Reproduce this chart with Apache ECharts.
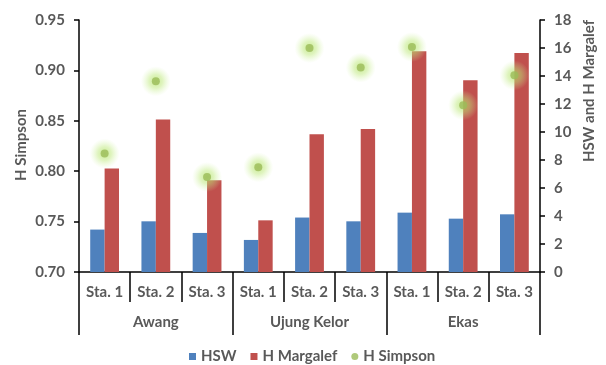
<!DOCTYPE html>
<html>
<head>
<meta charset="utf-8">
<script src="https://cdn.jsdelivr.net/npm/echarts@6/dist/echarts.min.js"></script>
<style>
  html, body { margin: 0; padding: 0; background: #fff; }
  #chart { width: 606px; height: 365px; }
</style>
</head>
<body>
<div id="chart"></div>
<script>
// Stations (inner axis level) and their sites (outer axis level)
const stations = ['Sta. 1', 'Sta. 2', 'Sta. 3', 'Sta. 1', 'Sta. 2', 'Sta. 3', 'Sta. 1', 'Sta. 2', 'Sta. 3'];
const sites = ['Awang', 'Ujung Kelor', 'Ekas'];

// Diversity indices per station
const hsw = [3.03, 3.62, 2.79, 2.29, 3.89, 3.62, 4.24, 3.81, 4.12];
const hMargalef = [7.40, 10.89, 6.55, 3.69, 9.84, 10.21, 15.77, 13.69, 15.64];
const hSimpson = [0.8175, 0.8892, 0.7942, 0.8039, 0.9222, 0.9028, 0.9232, 0.8654, 0.8951];

// Axis ticks
const simpsonTicks = { min: 0.70, max: 0.95, step: 0.05 };
const countTicks = { min: 0, max: 18, step: 2 };

const FONT = 'Lato';
const GREY = '#595959';
const textBase = { fontFamily: FONT, fontSize: 15, fontWeight: 'bold', color: GREY };

// Soft glow drawn behind each Simpson point
const glowFill = new echarts.graphic.RadialGradient(0.5, 0.5, 0.5, [
  { offset: 0, color: 'rgba(175,225,95,0.85)' },
  { offset: 0.45, color: 'rgba(188,232,120,0.6)' },
  { offset: 1, color: 'rgba(210,242,165,0)' }
]);

const chart = echarts.init(document.getElementById('chart'), null, { renderer: 'canvas' });

chart.setOption({
  animation: false,
  backgroundColor: '#ffffff',
  grid: { left: 79, right: 66, top: 20, bottom: 93, containLabel: false },
  legend: {
    left: 184, top: 344,
    itemWidth: 7, itemHeight: 7, itemGap: 14,
    textStyle: Object.assign({}, textBase),
    data: [
      { name: 'HSW', icon: 'rect' },
      { name: 'H Margalef', icon: 'rect' },
      { name: 'H Simpson', icon: 'circle' }
    ]
  },
  xAxis: [
    {
      type: 'category', data: stations, position: 'bottom',
      axisLine: { lineStyle: { color: '#000', width: 1.5 } },
      axisTick: { show: true, length: 30, interval: 0, lineStyle: { color: '#000', width: 1.5 } },
      axisLabel: Object.assign({ margin: 13, interval: 0 }, textBase),
      splitLine: { show: false }
    },
    {
      type: 'category', data: sites, position: 'bottom',
      axisLine: { show: false },
      axisTick: { show: true, length: 63, interval: 0, lineStyle: { color: '#000', width: 1.5 } },
      axisLabel: Object.assign({ margin: 43, interval: 0 }, textBase),
      splitLine: { show: false }
    }
  ],
  yAxis: [
    {
      type: 'value', position: 'left',
      min: simpsonTicks.min, max: simpsonTicks.max, interval: simpsonTicks.step,
      axisLine: { show: true, lineStyle: { color: '#000', width: 1.5 } },
      axisTick: { show: true, length: 5, lineStyle: { color: '#000', width: 1.5 } },
      axisLabel: Object.assign({ margin: 14, formatter: v => v.toFixed(2) }, textBase),
      splitLine: { show: false }
    },
    {
      type: 'value', position: 'right',
      min: countTicks.min, max: countTicks.max, interval: countTicks.step,
      axisLine: { show: true, lineStyle: { color: '#000', width: 1.5 } },
      axisTick: { show: true, length: 5, lineStyle: { color: '#000', width: 1.5 } },
      axisLabel: Object.assign({ margin: 14 }, textBase),
      splitLine: { show: false }
    }
  ],
  graphic: [
    {
      type: 'text', x: 21, y: 145, rotation: Math.PI / 2,
      style: { text: 'H Simpson', align: 'center', verticalAlign: 'middle',
        font: 'bold 15px ' + FONT, fill: GREY }
    },
    {
      type: 'text', x: 589, y: 91, rotation: Math.PI / 2,
      style: { text: 'HSW and H Margalef', align: 'center', verticalAlign: 'middle',
        font: 'bold 15px ' + FONT, fill: GREY }
    }
  ],
  series: [
    {
      name: 'HSW', type: 'bar', data: hsw, xAxisIndex: 0, yAxisIndex: 1,
      barWidth: 14.4, barGap: '0%',
      itemStyle: { color: '#4F81BD' }
    },
    {
      name: 'H Margalef', type: 'bar', data: hMargalef, xAxisIndex: 0, yAxisIndex: 1,
      barWidth: 14.4, barGap: '0%',
      itemStyle: { color: '#C0504D' }
    },
    {
      name: 'H Simpson glow', type: 'scatter', data: hSimpson, xAxisIndex: 0, yAxisIndex: 0,
      symbol: 'circle', symbolSize: 30, z: 4, silent: true,
      itemStyle: { color: glowFill }
    },
    {
      name: 'H Simpson', type: 'scatter', data: hSimpson, xAxisIndex: 0, yAxisIndex: 0,
      symbol: 'circle', symbolSize: 8, z: 5,
      itemStyle: { color: '#9BBB59' }
    }
  ]
});
</script>
</body>
</html>
